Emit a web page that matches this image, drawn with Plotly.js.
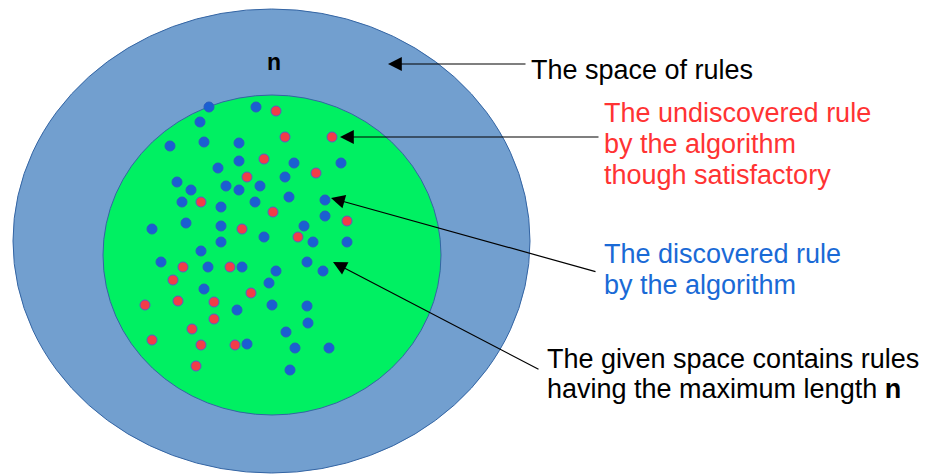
<!DOCTYPE html>
<html>
<head>
<meta charset="utf-8">
<script src="https://cdn.plot.ly/plotly-3.0.1.min.js"></script>
<style>html,body{margin:0;padding:0;background:#fff;}#chart{width:925px;height:475px;}</style>
</head>
<body>
<div id="chart"></div>
<script>
// Discovered rules (blue dots), pixel-space coordinates
const discoveredX = [209,256,200,170,204,239,239,218,294,341,285,177,191,226,239,260,289,325,182,221,255,325,152,186,221,264,221,304,313,347,201,161,208,242,276,307,323,269,204,237,272,307,308,286,247,295,329,290];
const discoveredY = [107,107,122,146,142,143,161,168,163,163,177,182,190,186,190,186,197,200,202,207,202,216,229,223,226,237,242,226,242,242,251,262,267,267,271,262,271,283,289,310,305,306,323,332,344,348,348,370];
// Undiscovered but satisfactory rules (red dots)
const undiscoveredX = [276,285,332,264,247,316,201,273,347,242,298,183,230,173,251,145,178,214,214,192,152,201,235,196];
const undiscoveredY = [111,137,137,159,177,173,202,212,221,229,237,267,267,280,293,305,301,302,319,329,340,345,345,366];

const labelSpace = "The space of rules";
const labelUndiscovered = ["The undiscovered rule", "by the algorithm", "though satisfactory"];
const labelDiscovered = ["The discovered rule", "by the algorithm"];
const labelGiven = ["The given space contains rules", "having the maximum length <b>n</b>"];

const FONT = "Liberation Sans, Arial, sans-serif";

const traces = [
  {
    type: "scatter", mode: "markers", name: "discovered",
    x: discoveredX, y: discoveredY,
    marker: {size: 10, color: "#1a5fd2", line: {color: "#2a5cc0", width: 1}},
    hoverinfo: "skip"
  },
  {
    type: "scatter", mode: "markers", name: "undiscovered",
    x: undiscoveredX, y: undiscoveredY,
    marker: {size: 10, color: "#f23c48", line: {color: "#5b5cc4", width: 1}},
    hoverinfo: "skip"
  }
];

function arrow(tipX, tipY, tailX, tailY) {
  return {
    x: tipX, y: tipY, ax: tailX, ay: tailY,
    xref: "x", yref: "y", axref: "x", ayref: "y",
    text: "", showarrow: true, arrowhead: 2, arrowsize: 2.3, arrowwidth: 1.2,
    arrowcolor: "#000", standoff: 0, startstandoff: 0
  };
}

function textLines(lines, x, ys, color) {
  return lines.map((t, i) => ({
    x: x, y: ys[i], xref: "x", yref: "y", text: t, showarrow: false,
    font: {family: FONT, size: 27, color: color}, xanchor: "left", yanchor: "middle", align: "left"
  }));
}

const layout = {
  width: 925, height: 475,
  margin: {l: 0, r: 0, t: 0, b: 0},
  paper_bgcolor: "#ffffff", plot_bgcolor: "#ffffff",
  showlegend: false,
  xaxis: {range: [0, 925], visible: false, fixedrange: true},
  yaxis: {range: [475, 0], visible: false, fixedrange: true},
  shapes: [
    {type: "circle", xref: "x", yref: "y", x0: 13, x1: 530, y0: 9, y1: 473,
     fillcolor: "#729fcf", line: {color: "#3465a4", width: 1}, layer: "below"},
    {type: "circle", xref: "x", yref: "y", x0: 103, x1: 441, y0: 95, y1: 415,
     fillcolor: "#00f062", line: {color: "#3465a4", width: 1}, layer: "below"}
  ],
  annotations: [
    {x: 274, y: 62, xref: "x", yref: "y", text: "<b>n</b>", showarrow: false,
     font: {family: FONT, size: 23, color: "#000"}, xanchor: "center", yanchor: "middle"}
  ]
  .concat(textLines([labelSpace], 529, [70], "#000"))
  .concat(textLines(labelUndiscovered, 602, [113, 144, 175], "#ff3333"))
  .concat(textLines(labelDiscovered, 602, [254, 285], "#1a6ad6"))
  .concat(textLines(labelGiven, 545, [359, 389], "#000"))
  .concat([
    arrow(388, 64, 527, 64),
    arrow(340, 137, 600, 137),
    arrow(331, 198, 597, 272),
    arrow(333, 262, 540, 370)
  ])
};

Plotly.newPlot("chart", traces, layout, {staticPlot: true, displayModeBar: false});
</script>
</body>
</html>
